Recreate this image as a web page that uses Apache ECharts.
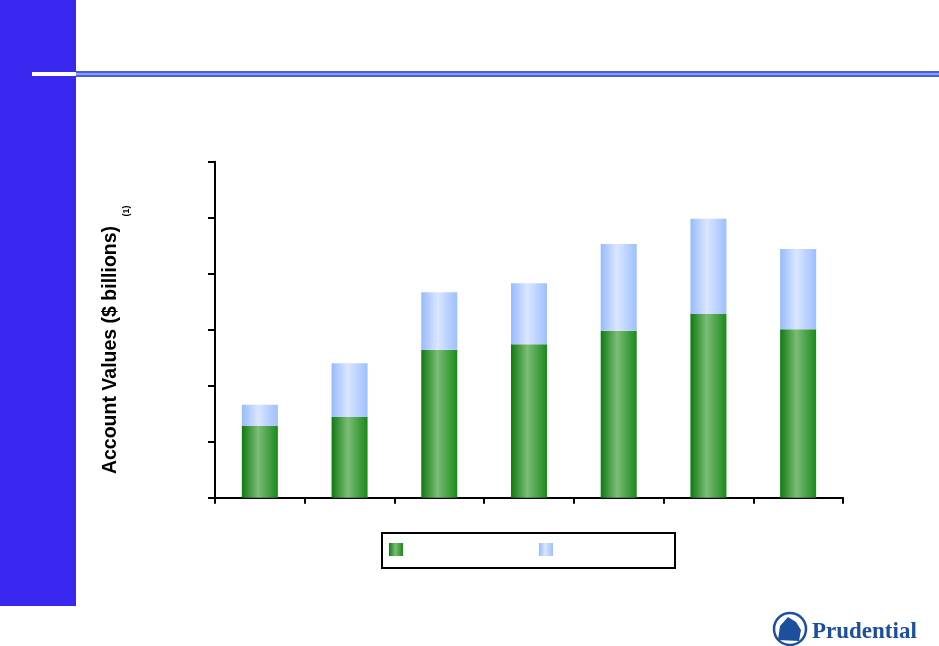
<!DOCTYPE html>
<html>
<head>
<meta charset="utf-8">
<script src="https://cdn.jsdelivr.net/npm/echarts@6/dist/echarts.min.js"></script>
<style>html,body{margin:0;padding:0;background:#fff;}#c{width:939px;height:646px;}</style>
</head>
<body>
<div id="c"></div>
<script>
var categories = ['1', '2', '3', '4', '5', '6', '7'];
var generalAccount = [12.8, 14.4, 26.4, 27.4, 29.8, 32.8, 30.1];
var separateAccount = [3.8, 9.6, 10.3, 10.9, 15.5, 17.0, 14.3];
var seriesNames = ['General Account', 'Separate Account'];

var greenGrad = new echarts.graphic.LinearGradient(0, 0, 1, 0, [
  {offset: 0, color: '#0f7a10'},
  {offset: 0.45, color: '#7bbd77'},
  {offset: 1, color: '#1b891b'}
]);
var blueGrad = new echarts.graphic.LinearGradient(0, 0, 1, 0, [
  {offset: 0, color: '#96baff'},
  {offset: 0.45, color: '#dae6ff'},
  {offset: 1, color: '#9dbfff'}
]);

var chart = echarts.init(document.getElementById('c'), null, {renderer: 'canvas'});
chart.setOption({
  animation: false,
  backgroundColor: '#ffffff',
  grid: {left: 215, right: 96, top: 161.7, bottom: 148.3, containLabel: false},
  xAxis: {
    type: 'category',
    data: categories,
    axisLine: {lineStyle: {color: '#000', width: 2}},
    axisTick: {show: true, length: 6, lineStyle: {color: '#000', width: 2}},
    axisLabel: {show: false}
  },
  yAxis: {
    type: 'value',
    min: 0, max: 60, interval: 10,
    axisLine: {show: true, lineStyle: {color: '#000', width: 2}},
    axisTick: {show: true, length: 7, lineStyle: {color: '#000', width: 2}},
    axisLabel: {show: false},
    splitLine: {show: false}
  },
  legend: {
    left: 384, top: 538,
    icon: 'rect',
    itemWidth: 14, itemHeight: 13, itemGap: 136,
    data: seriesNames,
    formatter: function () { return ''; },
    selectedMode: false
  },
  series: [
    {name: seriesNames[0], type: 'bar', stack: 't', data: generalAccount, barWidth: 36,
     itemStyle: {color: greenGrad}},
    {name: seriesNames[1], type: 'bar', stack: 't', data: separateAccount, barWidth: 36,
     itemStyle: {color: blueGrad}}
  ],
  graphic: [
    {type: 'rect', shape: {x: 0, y: 0, width: 76, height: 606}, style: {fill: '#3b28f0'}, silent: true},
    {type: 'rect', shape: {x: 32, y: 72, width: 44, height: 4}, style: {fill: '#ffffff'}, silent: true},
    {type: 'rect', shape: {x: 76, y: 71, width: 863, height: 6}, style: {fill: '#4a5de0'}, silent: true},
    {type: 'rect', shape: {x: 76, y: 73, width: 863, height: 2}, style: {fill: '#86a2f7'}, silent: true},
    {type: 'rect', shape: {x: 382, y: 533, width: 293, height: 35}, style: {fill: 'none', stroke: '#000', lineWidth: 2}, silent: true},
    {type: 'text', x: 111, y: 350, rotation: Math.PI / 2,
     style: {text: 'Account Values ($ billions)', fill: '#000', fontSize: 19.5, fontWeight: 'bold',
             fontFamily: '"Liberation Sans", Arial, sans-serif',
             align: 'center', verticalAlign: 'middle'}, silent: true},
    {type: 'text', x: 127, y: 211, rotation: Math.PI / 2,
     style: {text: '(1)', fill: '#000', fontSize: 9, fontWeight: 'bold',
             fontFamily: '"Liberation Sans", Arial, sans-serif',
             align: 'center', verticalAlign: 'middle'}, silent: true},
    {type: 'circle', shape: {cx: 790, cy: 629, r: 16}, style: {fill: '#ffffff', stroke: '#1d4f9f', lineWidth: 2.5}, silent: true},
    {type: 'polygon', shape: {points: [[778, 640], [780, 626], [788, 617], [796, 622], [801, 630], [799, 641]]}, style: {fill: '#1d4f9f'}, silent: true},
    {type: 'text', x: 812, y: 632,
     style: {text: 'Prudential', fill: '#1d4f9f', fontSize: 23, fontWeight: 'bold',
             fontFamily: '"Liberation Serif", "Times New Roman", serif',
             align: 'left', verticalAlign: 'middle'}, silent: true}
  ]
});
</script>
</body>
</html>
